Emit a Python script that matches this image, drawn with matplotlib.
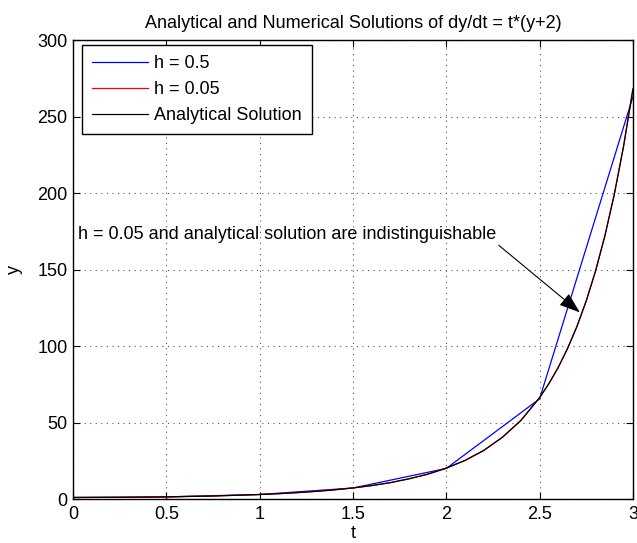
import numpy as np
import matplotlib.pyplot as plt

plt.rcParams['font.family'] = ['Liberation Sans', 'DejaVu Sans']

# ---- data ----
t_coarse = [0, 0.5, 1.0, 1.5, 2.0, 2.5, 3.0]
y_coarse = [1.0, 1.4, 2.95, 7.2, 20.0, 65.5, 263.0]

t_fine = [0, 0.25, 0.5, 0.75, 1.0, 1.1, 1.2, 1.3, 1.4, 1.5, 1.6, 1.7, 1.8, 1.9,
          2.0, 2.1, 2.2, 2.3, 2.4, 2.5, 2.55, 2.6, 2.65, 2.7, 2.75, 2.8,
          2.85, 2.9, 2.95, 3.0]
y_fine = [1.0, 1.1, 1.4, 1.97, 2.95, 3.49, 4.16, 4.98, 5.99, 7.24, 8.79, 10.7,
          13.2, 16.2, 20.2, 25.2, 31.7, 40.3, 51.4, 66.3, 75.5, 86.1, 98.5,
          112.8, 129.6, 149.2, 172.2, 199.1, 230.7, 268.0]

t_exact = list(t_fine)
y_exact = [1.0, 1.1, 1.4, 1.97, 2.95, 3.49, 4.16, 4.98, 5.99, 7.24, 8.79, 10.7,
           13.2, 16.2, 20.2, 25.2, 31.7, 40.3, 51.4, 66.3, 75.5, 86.1, 98.5,
           112.8, 129.6, 149.2, 172.2, 199.1, 230.7, 268.0]

xticks = [0, 0.5, 1, 1.5, 2, 2.5, 3]
xticklabels = ['0', '0.5', '1', '1.5', '2', '2.5', '3']
yticks = [0, 50, 100, 150, 200, 250, 300]

FS = 13

fig = plt.figure(figsize=(6.37, 5.43), dpi=100)
ax = fig.add_axes([0.1146, 0.081, 0.879, 0.845])

ax.plot(t_coarse, y_coarse, color='#0000ff', lw=0.9, label='h = 0.5')
ax.plot(t_fine, y_fine, color='#ff0000', lw=0.9, label='h = 0.05')
ax.plot(t_exact, y_exact, color='black', lw=0.9, label='Analytical Solution')

ax.set_xlim(0, 3)
ax.set_ylim(0, 300)
ax.set_xticks(xticks)
ax.set_xticklabels(xticklabels)
ax.set_yticks(yticks)
ax.tick_params(direction='in', top=True, right=True, labelsize=FS, length=5)
ax.tick_params(axis='x', pad=5)
ax.tick_params(axis='y', pad=4)
ax.grid(True, linestyle=(0, (1, 4)), color='#555555', lw=0.8)
for s in ax.spines.values():
    s.set_linewidth(1.0)

ax.set_title('Analytical and Numerical Solutions of dy/dt = t*(y+2)', fontsize=FS, pad=9)
ax.set_xlabel('t', fontsize=FS, labelpad=1.5)
ax.set_ylabel('y', fontsize=FS, labelpad=10)

leg = ax.legend(loc='upper left', bbox_to_anchor=(9 / 560, 1 - 5 / 459),
                fontsize=FS, fancybox=False, framealpha=1,
                edgecolor='black', borderaxespad=0, handlelength=3.1,
                handletextpad=0.35, labelspacing=0.5, borderpad=0.55)
leg.get_frame().set_linewidth(1.0)

ax.annotate('h = 0.05 and analytical solution are indistinguishable',
            xy=(2.716, 122), xytext=(0.025, 173), fontsize=FS,
            va='center', ha='left',
            arrowprops=dict(arrowstyle='-|>,head_length=1.0,head_width=0.35',
                            color='black', lw=0.8, shrinkA=0, shrinkB=0,
                            relpos=(1.0, 0.0)))

fig.savefig('out.png', dpi=100)
